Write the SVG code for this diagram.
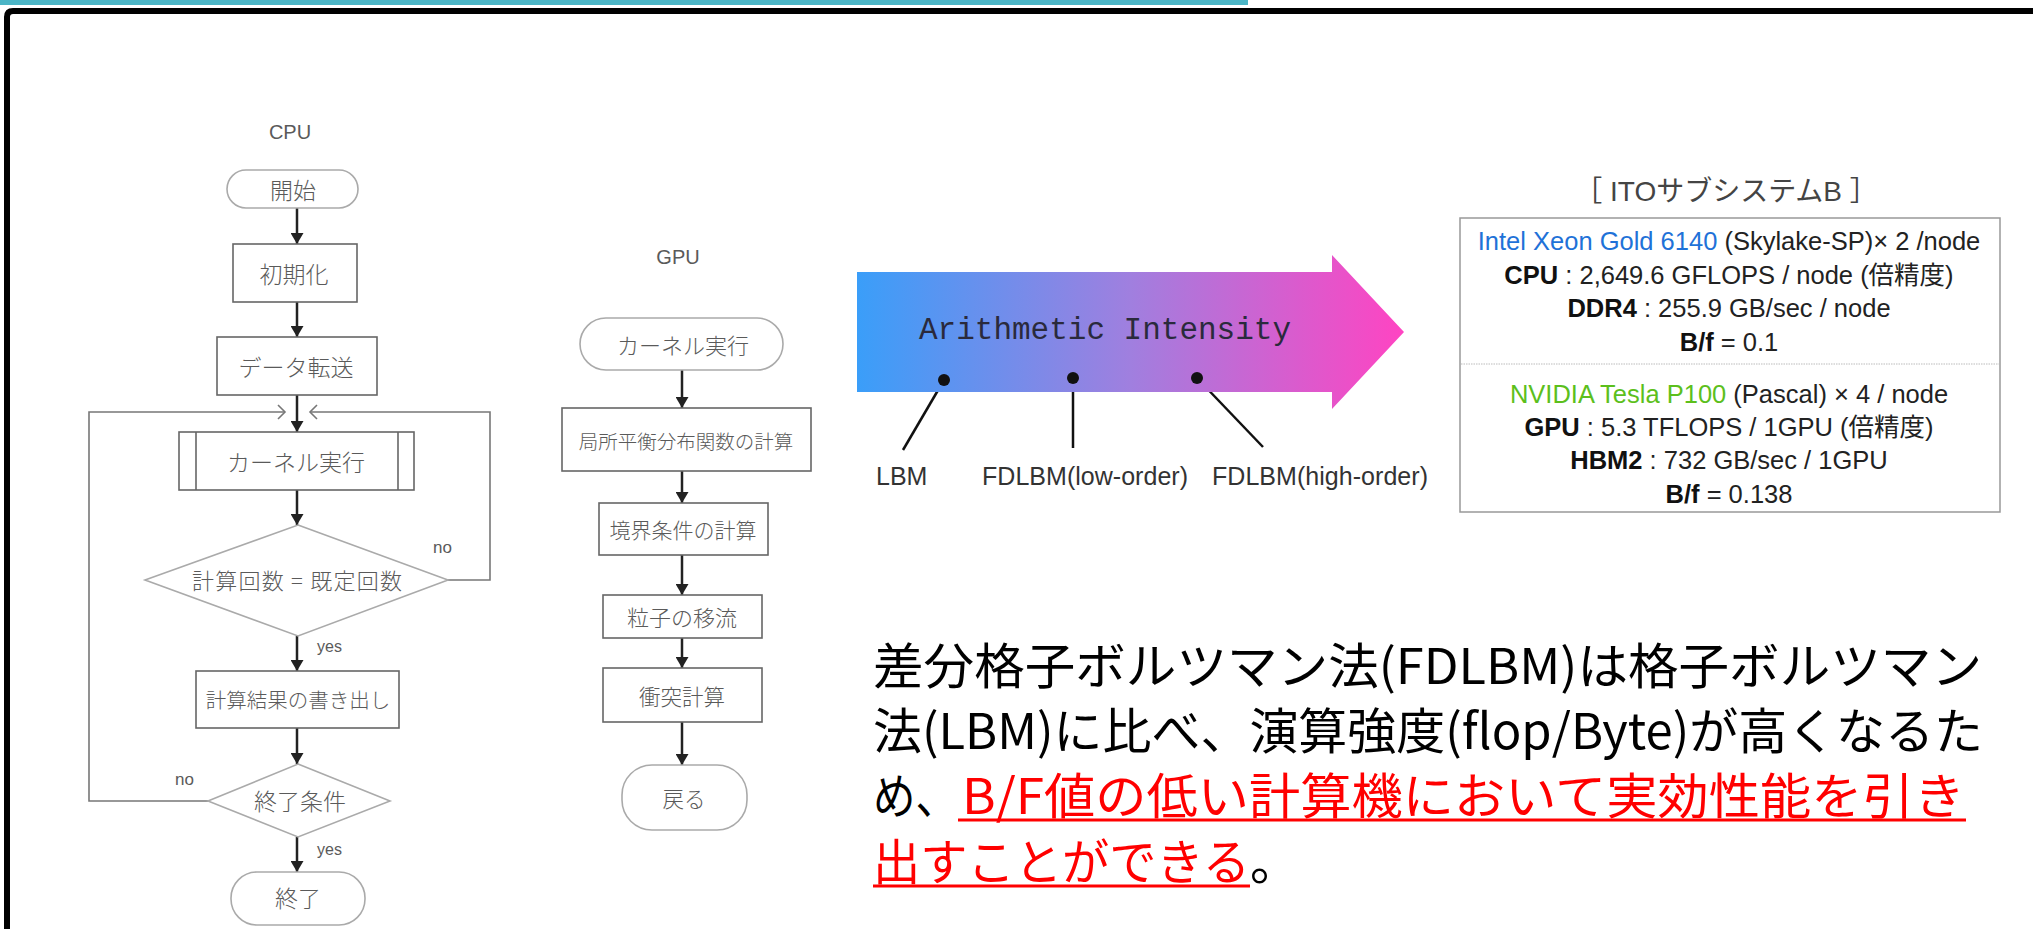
<svg xmlns="http://www.w3.org/2000/svg" width="2033" height="929" viewBox="0 0 2033 929">
<style>
.fl{font-family:"Noto Sans CJK JP",sans-serif;font-weight:300;fill:#5a5a5a;text-anchor:middle;dominant-baseline:central}
.lb{font-family:"Liberation Sans","Noto Sans",sans-serif;fill:#5a5a5a}
.term{fill:#fff;stroke:#aaa;stroke-width:1.6}
.box{fill:#fff;stroke:#666;stroke-width:1.6}
.dia{fill:#fff;stroke:#aaa;stroke-width:1.6}
.ar{stroke:#222;stroke-width:2.5;fill:none;marker-end:url(#ah)}
.loop{stroke:#777;stroke-width:1.6;fill:none}
.ito{font-family:"Liberation Sans","Noto Sans CJK JP",sans-serif;font-size:25.5px;fill:#222;text-anchor:middle}
.ito .b{font-weight:bold;fill:#111}
.main{font-family:"Noto Sans CJK JP",sans-serif;font-size:49px;fill:#000}
.red{fill:#ff0000}
.ptr{stroke:#111;stroke-width:2.5}
.cap{font-family:"Liberation Sans",sans-serif;font-size:25px;fill:#333}
</style>
<defs>
<marker id="ah" viewBox="0 0 11 13" refX="11" refY="6.5" markerWidth="11" markerHeight="13" markerUnits="userSpaceOnUse" orient="auto">
<path d="M0,0 L11,6.5 L0,13 z" fill="#222"/>
</marker>
<linearGradient id="grad" x1="857" y1="0" x2="1404" y2="0" gradientUnits="userSpaceOnUse">
<stop offset="0" stop-color="#3a9ef9"/>
<stop offset="0.5" stop-color="#a07fdf"/>
<stop offset="1" stop-color="#ff44c2"/>
</linearGradient>
</defs>
<rect width="2033" height="929" fill="#fff"/>
<rect x="0" y="0" width="1248" height="5" fill="#4bb5c6"/>
<path d="M7,929 V17 Q7,11 13,11 H2033" fill="none" stroke="#000" stroke-width="6"/>

<g id="connectors">
<line class="ar" x1="297" y1="208" x2="297" y2="244"/>
<line class="ar" x1="297" y1="302" x2="297" y2="337"/>
<line class="ar" x1="297" y1="395" x2="297" y2="432"/>
<line class="ar" x1="297" y1="490" x2="297" y2="525"/>
<line class="ar" x1="297" y1="636" x2="297" y2="671"/>
<line class="ar" x1="297" y1="728" x2="297" y2="764"/>
<line class="ar" x1="297" y1="837" x2="297" y2="872"/>
<polyline class="loop" points="208,801 89,801 89,412 285,412"/>
<polyline class="loop" points="278,405 285,412 278,419"/>
<polyline class="loop" points="448,580 490,580 490,412 310,412"/>
<polyline class="loop" points="317,405 310,412 317,419"/>
<line class="ar" x1="682" y1="370" x2="682" y2="408"/>
<line class="ar" x1="682" y1="471" x2="682" y2="503"/>
<line class="ar" x1="682" y1="555" x2="682" y2="595"/>
<line class="ar" x1="682" y1="638" x2="682" y2="668"/>
<line class="ar" x1="682" y1="722" x2="682" y2="765"/>
<line class="ptr" x1="944" y1="380" x2="903" y2="450"/>
<line class="ptr" x1="1073" y1="378" x2="1073" y2="448"/>
<line class="ptr" x1="1197" y1="378" x2="1263" y2="447"/>
</g>

<g id="cpu-label"><text class="lb" x="290" y="139" font-size="20" text-anchor="middle">CPU</text></g>
<g id="start"><rect class="term" x="227" y="170" width="131" height="38" rx="19"/><text class="fl" x="293" y="189" font-size="23">開始</text></g>
<g id="init"><rect class="box" x="233" y="244" width="124" height="58"/><text class="fl" x="294" y="273" font-size="23">初期化</text></g>
<g id="transfer"><rect class="box" x="217" y="337" width="160" height="58"/><text class="fl" x="296" y="366" font-size="23">データ転送</text></g>
<g id="kernel-cpu"><rect class="box" x="179" y="432" width="235" height="58"/><line x1="196" y1="432" x2="196" y2="490" stroke="#666" stroke-width="1.6"/><line x1="398" y1="432" x2="398" y2="490" stroke="#666" stroke-width="1.6"/><text class="fl" x="296" y="461" font-size="23">カーネル実行</text></g>
<g id="check-count"><polygon class="dia" points="298,525 448,580 298,636 145,580"/><text class="fl" x="192" y="579" font-size="22" text-anchor="start" style="text-anchor:start" textLength="210" lengthAdjust="spacing">計算回数 = 既定回数</text></g>
<g id="no1"><text class="lb" x="433" y="553" font-size="17">no</text></g>
<g id="yes1"><text class="lb" x="317" y="652" font-size="16">yes</text></g>
<g id="output"><rect class="box" x="196" y="671" width="203" height="57"/><text class="fl" x="298" y="699" font-size="20.5">計算結果の書き出し</text></g>
<g id="end-cond"><polygon class="dia" points="298,764 390,801 298,837 208,801"/><text class="fl" x="300" y="800" font-size="23">終了条件</text></g>
<g id="no2"><text class="lb" x="175" y="785" font-size="17">no</text></g>
<g id="yes2"><text class="lb" x="317" y="855" font-size="16">yes</text></g>
<g id="end"><rect class="term" x="231" y="872" width="134" height="53" rx="26"/><text class="fl" x="298" y="897" font-size="23">終了</text></g>

<g id="gpu-label"><text class="lb" x="678" y="264" font-size="20" text-anchor="middle">GPU</text></g>
<g id="kernel-gpu"><rect class="term" x="580" y="318" width="203" height="52" rx="26"/><text class="fl" x="683" y="344" font-size="22">カーネル実行</text></g>
<g id="feq"><rect class="box" x="562" y="408" width="249" height="63"/><text class="fl" x="686" y="440" font-size="19.5">局所平衡分布関数の計算</text></g>
<g id="boundary"><rect class="box" x="599" y="503" width="169" height="52"/><text class="fl" x="683" y="529" font-size="21">境界条件の計算</text></g>
<g id="stream"><rect class="box" x="603" y="595" width="159" height="43"/><text class="fl" x="682" y="616" font-size="22">粒子の移流</text></g>
<g id="collide"><rect class="box" x="603" y="668" width="159" height="54"/><text class="fl" x="682" y="695" font-size="21.5">衝突計算</text></g>
<g id="return"><rect class="term" x="622" y="765" width="125" height="65" rx="30"/><text class="fl" x="684" y="797" font-size="21.5">戻る</text></g>

<g id="intensity-arrow">
<polygon points="857,272 1332,272 1332,255 1404,332 1332,409 1332,392 857,392" fill="url(#grad)"/>
<text x="919" y="339" font-family="'Liberation Mono','DejaVu Sans Mono',monospace" font-size="31" fill="#2a2a3c" textLength="372">Arithmetic Intensity</text>
<circle cx="944" cy="380" r="6" fill="#111"/>
<circle cx="1073" cy="378" r="6" fill="#111"/>
<circle cx="1197" cy="378" r="6" fill="#111"/>
</g>
<g id="lbm"><text class="cap" x="876" y="485">LBM</text></g>
<g id="fdlbm-low"><text class="cap" x="982" y="485" textLength="206">FDLBM(low-order)</text></g>
<g id="fdlbm-high"><text class="cap" x="1212" y="485" textLength="216">FDLBM(high-order)</text></g>

<g id="ito">
<text x="1726" y="201" font-family="'Liberation Sans','Noto Sans CJK JP',sans-serif" font-size="28" fill="#444" text-anchor="middle">［ ITOサブシステムB ］</text>
<rect x="1460" y="218" width="540" height="294" fill="#fff" stroke="#999" stroke-width="1.5"/>
<line x1="1461" y1="364" x2="1999" y2="364" stroke="#bbb" stroke-width="1.2" stroke-dasharray="1.5 1"/>
<text class="ito" x="1729" y="250"><tspan fill="#1f72d8">Intel Xeon Gold 6140</tspan> (Skylake-SP)× 2 /node</text>
<text class="ito" x="1729" y="284"><tspan class="b">CPU</tspan> : 2,649.6 GFLOPS / node (倍精度)</text>
<text class="ito" x="1729" y="317"><tspan class="b">DDR4</tspan> : 255.9 GB/sec / node</text>
<text class="ito" x="1729" y="351"><tspan class="b">B/f</tspan> = 0.1</text>
<text class="ito" x="1729" y="403"><tspan fill="#5cbf1c">NVIDIA Tesla P100</tspan> (Pascal) × 4 / node</text>
<text class="ito" x="1729" y="436"><tspan class="b">GPU</tspan> : 5.3 TFLOPS / 1GPU (倍精度)</text>
<text class="ito" x="1729" y="469"><tspan class="b">HBM2</tspan> : 732 GB/sec / 1GPU</text>
<text class="ito" x="1729" y="503"><tspan class="b">B/f</tspan> = 0.138</text>
</g>

<g id="summary">
<text class="main" x="873" y="684" textLength="1109" lengthAdjust="spacingAndGlyphs">差分格子ボルツマン法(FDLBM)は格子ボルツマン</text>
<text class="main" x="873" y="749" textLength="1110" lengthAdjust="spacingAndGlyphs">法(LBM)に比べ、演算強度(flop/Byte)が高くなるた</text>
<text class="main" x="873" y="814" textLength="85" lengthAdjust="spacingAndGlyphs">め、</text>
<text class="main red" x="962" y="814" textLength="1003" lengthAdjust="spacingAndGlyphs">B/F値の低い計算機において実効性能を引き</text>
<text class="main red" x="873" y="880" textLength="377" lengthAdjust="spacingAndGlyphs">出すことができる</text>
<text class="main" x="1250" y="880">。</text>
<line x1="958" y1="820" x2="1966" y2="820" stroke="#ff0000" stroke-width="3"/>
<line x1="873" y1="886" x2="1250" y2="886" stroke="#ff0000" stroke-width="3"/>
</g>
</svg>
